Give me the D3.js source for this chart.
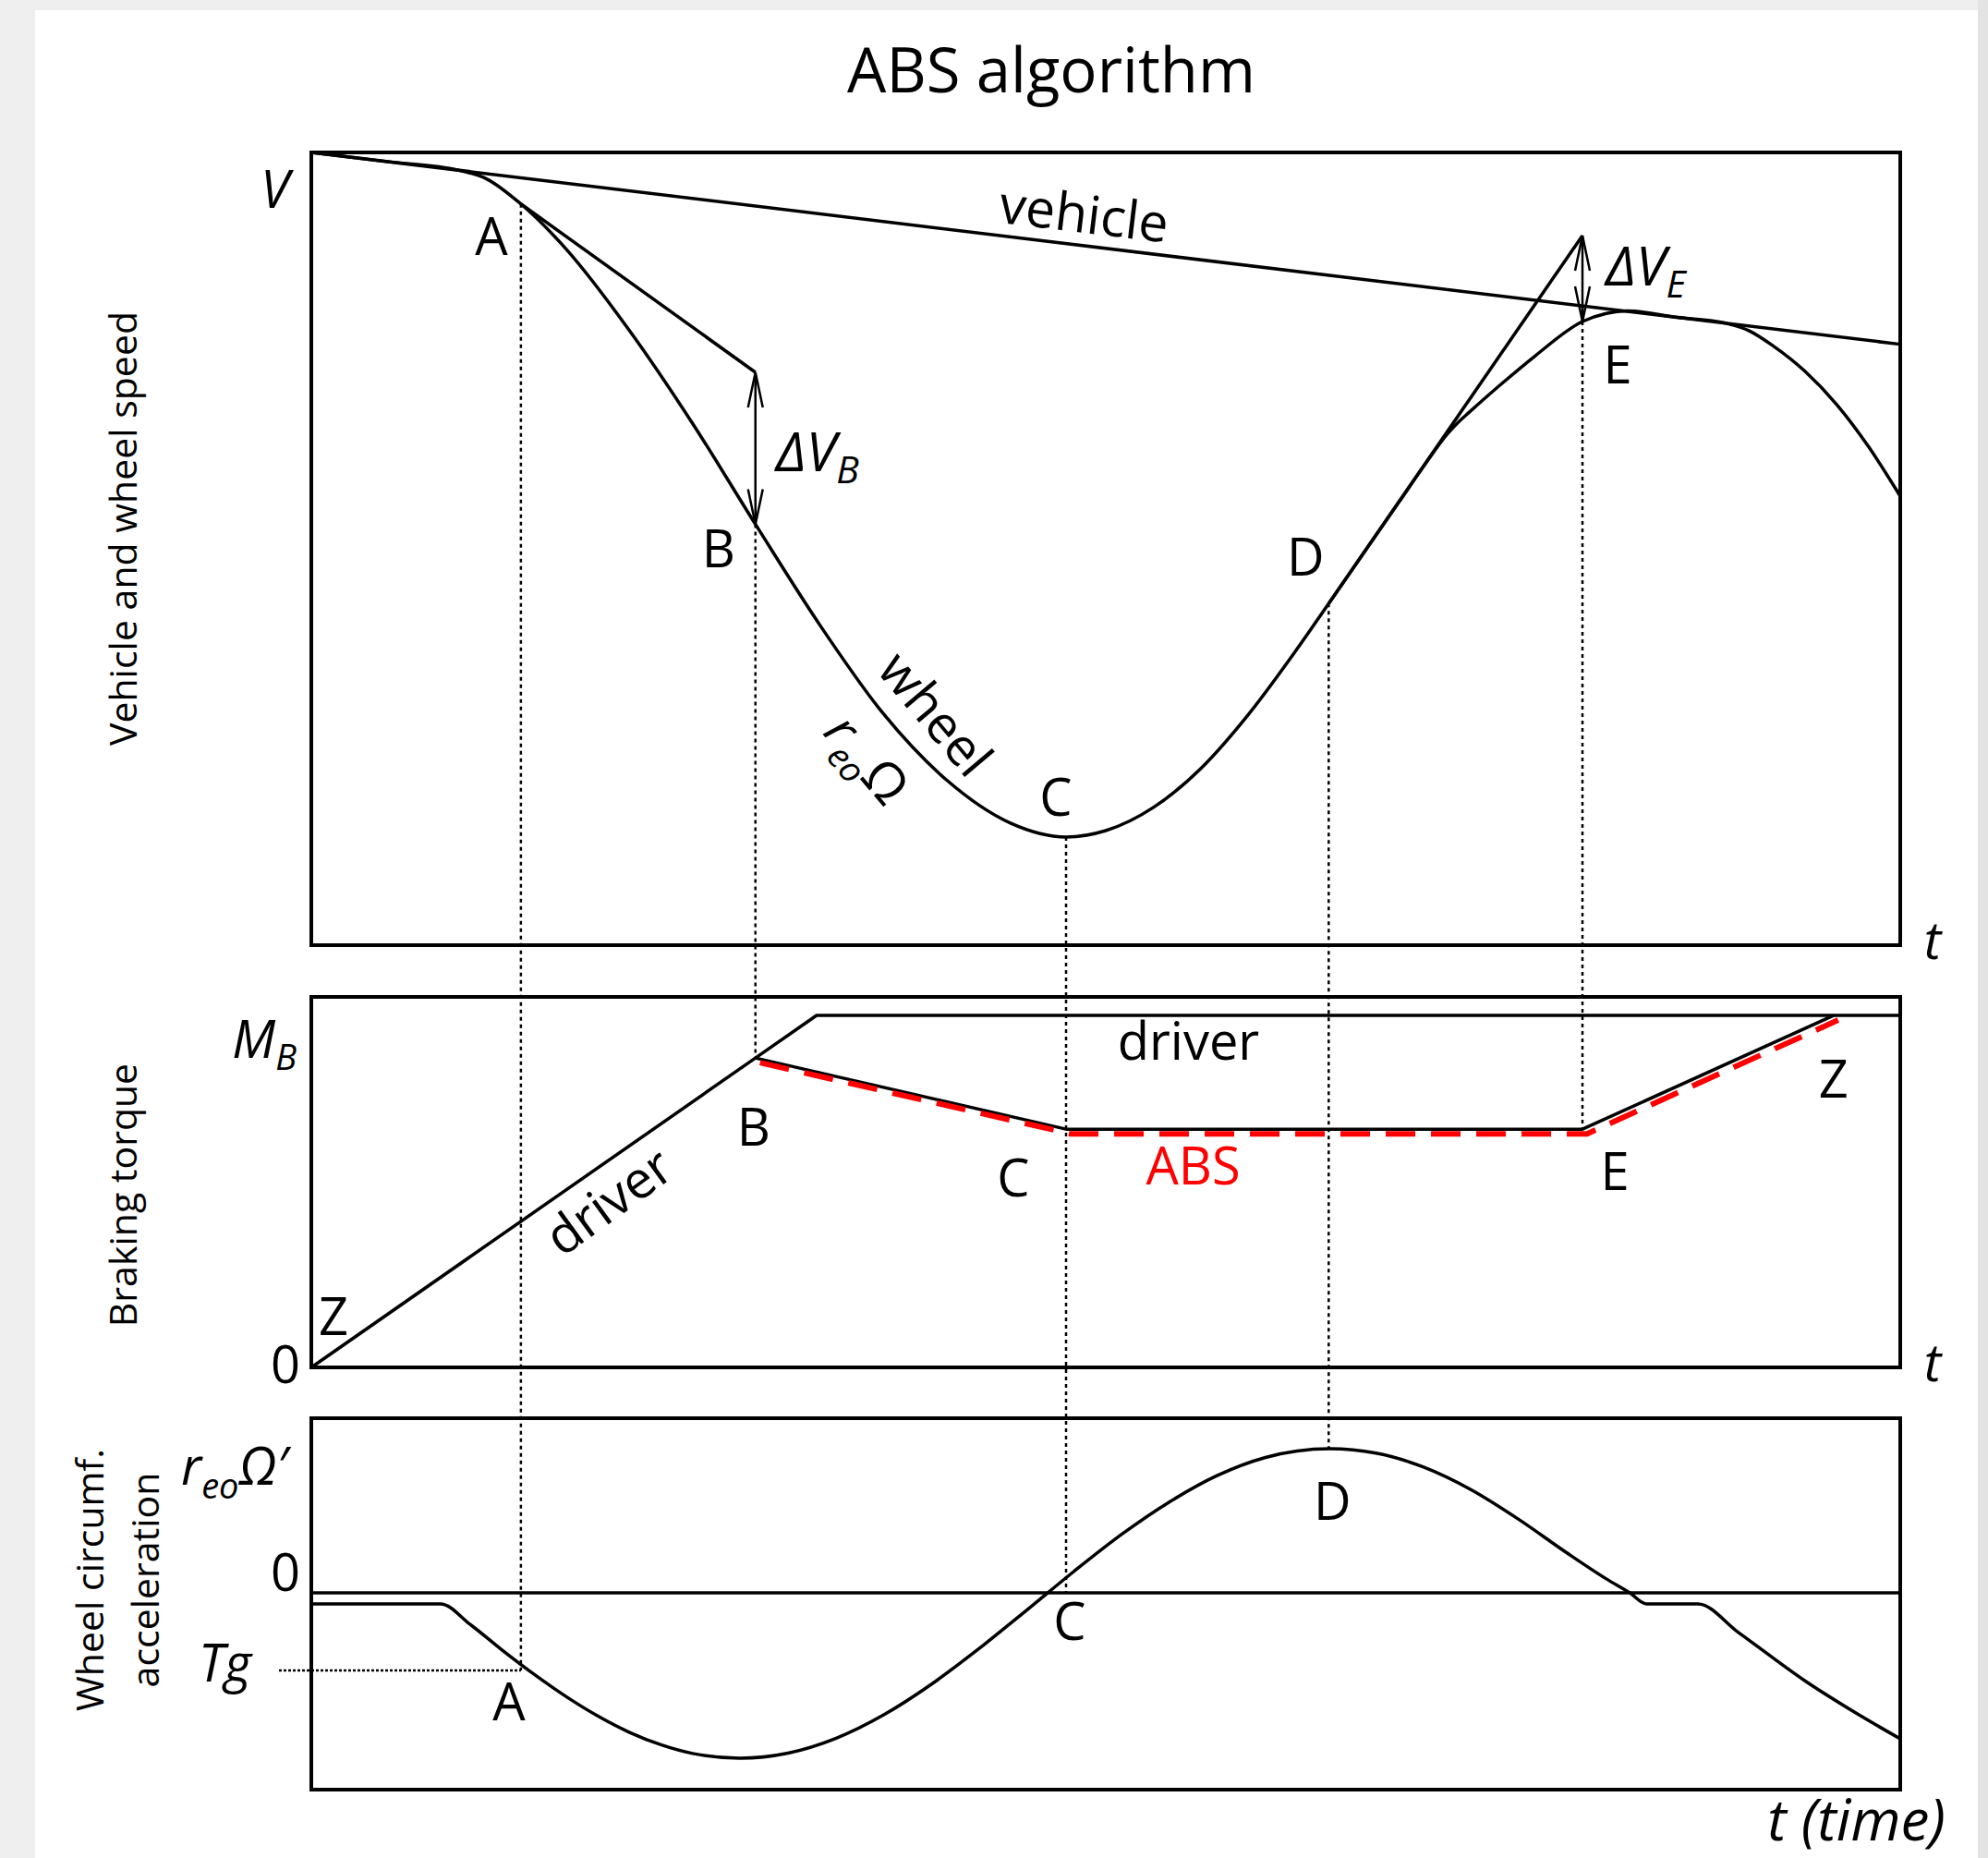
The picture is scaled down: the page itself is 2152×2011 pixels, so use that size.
<!DOCTYPE html>
<html>
<head>
<meta charset="utf-8">
<title>ABS algorithm</title>
<script src="https://cdn.jsdelivr.net/npm/d3@7"></script>
<style>
  body { margin: 0; background: #ececec; }
  svg { display: block; font-family: "Open Sans", sans-serif; }
</style>
</head>
<body>
<svg width="2152" height="2011"></svg>
<script>
// time runs 0..100 across all three panels
const eventNames = ["A", "B", "C", "D", "E"];
const eventT = [13.19, 27.95, 47.5, 64.03, 80.0];
const eventSpeed = [93.5, 53.1, 13.64, 43.1, 78.67];
// where each dotted drop line stops
const dropPanel = ["acc", "torque", "acc", "acc", "torque"];
const dropValue = [-0.444, 83.5, 0, 0.825, 64.3];

// top panel: vehicle and wheel speed
const vehicleT = [0, 100];
const vehicleV = [100, 75.8];
const wheelT = [0, 4.88, 9.24, 11, 13.19, 16, 20, 24, 27.95, 32, 36, 40, 44, 47.5,
  50, 53, 56, 59, 62, 64.03, 68.45, 70, 71.5, 72.2, 72.86, 74.9, 77, 80, 81.5, 82.8, 86, 89,
  90.5, 92, 94, 96, 98, 100];
const wheelV = [100, 98.82, 97.77, 96.7, 93.5, 87.9, 77.6, 65.8, 53.1, 40.4, 29.2, 20.8, 15.4, 13.64,
  14.45, 17.38, 22.33, 29.16, 37.26, 43.1, 55.9, 60.4, 64.5, 66.0, 67.2, 70.8, 74.3, 78.67, 79.7, 80.0,
  79.19, 78.46, 77.5, 75.6, 72.4, 68.2, 62.9, 56.64];
const tangentAT = [13.19, 27.95], tangentAV = [93.5, 72.26];
const tangentDT = [64.03, 80.0], tangentDV = [43.1, 89.5];

// middle panel: braking torque
const driverT = [0, 27.95, 31.8, 100];
const driverM = [0, 83.5, 95, 95];
const absT = [27.95, 47.5, 80.0, 95.8];
const absM = [83.5, 64.3, 64.3, 95];

// bottom panel: wheel circumferential acceleration
const accT = [0, 8.13, 10, 12, 14, 16, 18, 20, 22, 24, 26.96, 30, 33, 36, 39, 42, 45, 48,
  51, 54, 57, 60, 64.09, 67, 70, 73, 76, 79, 81.5, 82.98, 84.02, 87.27, 89.83, 94.07, 97.5, 100];
const accA = [-0.063, -0.063, -0.181, -0.327, -0.465, -0.592, -0.704, -0.798, -0.870, -0.920,
  -0.947, -0.918, -0.834, -0.700, -0.525, -0.321, -0.101, 0.123, 0.335, 0.520, 0.671, 0.774,
  0.825, 0.80, 0.72, 0.59, 0.42, 0.23, 0.08, 0, -0.063, -0.063, -0.228, -0.508, -0.704, -0.836];
const tgLevel = -0.444;

const svg = d3.select("svg");

// page background and white card
svg.append("rect").attr("width", 2152).attr("height", 2011).attr("fill", "#efefef");
svg.append("rect").attr("x", 2141).attr("width", 11).attr("height", 2011).attr("fill", "#e3e3e3");
svg.append("rect").attr("x", 38).attr("y", 11).attr("width", 2103).attr("height", 2000).attr("fill", "#fff");

const x = d3.scaleLinear().domain([0, 100]).range([337, 2057]);
const ySpeed = d3.scaleLinear().domain([0, 100]).range([1023, 165]);
const yTorque = d3.scaleLinear().domain([0, 100]).range([1480, 1079]);
const yAcc = d3.scaleLinear().domain([-1.127, 1]).range([1937, 1535]);
const yOf = {acc: yAcc, torque: yTorque};

const zip = (a, b) => a.map((d, i) => [d, b[i]]);
const lineSpeed = d3.line().x(d => x(d[0])).y(d => ySpeed(d[1]));
const lineTorque = d3.line().x(d => x(d[0])).y(d => yTorque(d[1]));
const lineAcc = d3.line().x(d => x(d[0])).y(d => yAcc(d[1])).curve(d3.curveMonotoneX);

// arrow heads
svg.append("defs").append("marker")
    .attr("id", "arr")
    .attr("markerUnits", "userSpaceOnUse")
    .attr("viewBox", "-44 -14 48 28")
    .attr("markerWidth", 48).attr("markerHeight", 28)
    .attr("refX", 0).attr("refY", 0)
    .attr("orient", "auto-start-reverse")
  .append("path")
    .attr("d", "M-38,-8L0,0L-38,8")
    .attr("fill", "none").attr("stroke", "#000").attr("stroke-width", 2.5);

// dotted drop lines linking the events across panels
const drops = svg.append("g").attr("stroke", "#000").attr("stroke-width", 2.5)
    .attr("stroke-dasharray", "4,4");
eventT.forEach((t, i) => {
  drops.append("line")
      .attr("x1", x(t)).attr("x2", x(t))
      .attr("y1", ySpeed(eventSpeed[i]))
      .attr("y2", yOf[dropPanel[i]](dropValue[i]));
});
svg.append("line")
    .attr("x1", x(0) - 35).attr("x2", x(eventT[0]))
    .attr("y1", yAcc(tgLevel)).attr("y2", yAcc(tgLevel))
    .attr("stroke", "#000").attr("stroke-width", 2.5).attr("stroke-dasharray", "3,2");

// panel frames
[ySpeed, yTorque, yAcc].forEach(s => {
  const [b, t] = s.range();
  svg.append("rect")
      .attr("x", x(0)).attr("y", t)
      .attr("width", x(100) - x(0)).attr("height", b - t)
      .attr("fill", "none").attr("stroke", "#000").attr("stroke-width", 4);
});
svg.append("line")
    .attr("x1", x(0)).attr("x2", x(100))
    .attr("y1", yAcc(0)).attr("y2", yAcc(0))
    .attr("stroke", "#000").attr("stroke-width", 3.5);

const curves = svg.append("g").attr("fill", "none").attr("stroke", "#000")
    .attr("stroke-width", 3.5).attr("stroke-linejoin", "round");

// top panel curves
curves.append("path").attr("d", lineSpeed(zip(vehicleT, vehicleV)));
curves.append("path").attr("d", lineSpeed.curve(d3.curveMonotoneX)(zip(wheelT, wheelV)));
lineSpeed.curve(d3.curveLinear);
curves.append("path").attr("d", lineSpeed(zip(tangentAT, tangentAV)));
curves.append("path").attr("d", lineSpeed(zip(tangentDT, tangentDV)));

// delta-V arrows
[[tangentAT[1], tangentAV[1], eventSpeed[1]], [tangentDT[1], tangentDV[1], eventSpeed[4]]]
  .forEach(([t, v1, v2]) => {
    svg.append("line")
        .attr("x1", x(t)).attr("x2", x(t))
        .attr("y1", ySpeed(v1)).attr("y2", ySpeed(v2))
        .attr("stroke", "#000").attr("stroke-width", 2.5)
        .attr("marker-start", "url(#arr)").attr("marker-end", "url(#arr)");
  });

// middle panel
curves.append("path").attr("d", lineTorque(zip(driverT, driverM)));
curves.append("path").attr("d", lineTorque(zip(absT, absM)));
svg.append("path")
    .attr("d", lineTorque(zip(absT, absM)))
    .attr("transform", "translate(5,5)")
    .attr("fill", "none").attr("stroke", "#ff0000").attr("stroke-width", 6)
    .attr("stroke-dasharray", "32,17");

// bottom panel
curves.append("path").attr("d", lineAcc(zip(accT, accA)));

// ---------- text ----------
const txt = (px, py, s, o = {}) => svg.append("text")
    .attr("x", px).attr("y", py)
    .attr("text-anchor", o.anchor || "middle")
    .attr("font-size", o.size || 56)
    .attr("font-style", o.italic ? "italic" : null)
    .attr("fill", o.color || "#000")
    .text(s);

txt(1138, 100, "ABS algorithm", {size: 67});

// axis titles
const axisTitle = (px, py, lines) => {
  const t = svg.append("text")
      .attr("transform", `translate(${px},${py}) rotate(-90)`)
      .attr("text-anchor", "middle").attr("font-size", 41).attr("fill", "#000");
  lines.forEach((l, i) => t.append("tspan").attr("x", 0).attr("dy", i ? 60 : 0).text(l));
};
axisTitle(148, (ySpeed(0) + ySpeed(100)) / 2 - 22, ["Vehicle and wheel speed"]);
axisTitle(148, (yTorque(0) + yTorque(100)) / 2 + 14, ["Braking torque"]);
axisTitle(112, (yAcc(-1.127) + yAcc(1)) / 2 - 26, ["Wheel circumf.", "acceleration"]);

// left value labels
txt(x(0) - 24, ySpeed(100) + 60, "V", {anchor: "end", italic: true});
const mb = txt(x(0) - 16, yTorque(100) + 66, "M", {anchor: "end", italic: true});
mb.append("tspan").attr("font-size", 38).attr("dy", 13).text("B");
txt(x(0) - 12, yTorque(0) + 17, "0", {anchor: "end"});
txt(x(0) - 12, yAcc(0) - 2, "0", {anchor: "end"});
txt(x(0) - 65, yAcc(tgLevel) + 12, "Tg", {anchor: "end", italic: true});
const ro = txt(x(0) - 141, yAcc(1) + 72, "r", {anchor: "start", italic: true});
ro.append("tspan").attr("font-size", 38).attr("dy", 15).text("eo");
ro.append("tspan").attr("dy", -15).text("Ω′");

// t axis labels
txt(x(100) + 35, ySpeed(0) + 15, "t", {italic: true});
txt(x(100) + 35, yTorque(0) + 15, "t", {italic: true});
txt(x(100) + 49, yAcc(-1.127) + 55, "t (time)", {anchor: "end", italic: true, size: 62});

// top panel labels
const [tA, tB, tC, tD, tE] = eventT;
txt(x(tA) - 32, ySpeed(eventSpeed[0]) + 55, "A");
txt(x(tB) - 40, ySpeed(eventSpeed[1]) + 47, "B");
txt(x(tC) - 11, ySpeed(eventSpeed[2]) - 23, "C");
txt(x(tD) - 25, ySpeed(eventSpeed[3]) - 30, "D");
txt(x(tE) + 38, ySpeed(eventSpeed[4]) + 67, "E");

const dvb = txt(x(tB) + 22, (ySpeed(tangentAV[1]) + ySpeed(eventSpeed[1])) / 2 + 25, "ΔV",
  {anchor: "start", italic: true, size: 59});
dvb.append("tspan").attr("font-size", 41).attr("dy", 13).text("B");
const dve = txt(x(tE) + 25, (ySpeed(tangentDV[1]) + ySpeed(eventSpeed[4])) / 2 + 7, "ΔV",
  {anchor: "start", italic: true, size: 59});
dve.append("tspan").attr("font-size", 41).attr("dy", 13).text("E");

// vehicle label follows the vehicle line
const vAng = Math.atan2(ySpeed(vehicleV[1]) - ySpeed(vehicleV[0]), x(100) - x(0)) * 180 / Math.PI;
const vt = 48.5, vv = vehicleV[0] + (vehicleV[1] - vehicleV[0]) * vt / 100;
svg.append("text")
    .attr("transform", `translate(${x(vt)},${ySpeed(vv) - 14}) rotate(${vAng})`)
    .attr("text-anchor", "middle").attr("font-size", 57).text("vehicle");

svg.append("text")
    .attr("transform", `translate(${x(38.4)},${ySpeed(27.7)}) rotate(50)`)
    .attr("text-anchor", "middle").attr("font-size", 56).text("wheel");
const rw = svg.append("text")
    .attr("transform", `translate(${x(34.1)},${ySpeed(22.0)}) rotate(50)`)
    .attr("text-anchor", "middle").attr("font-size", 56);
rw.append("tspan").attr("font-style", "italic").text("r");
rw.append("tspan").attr("font-size", 38).attr("dy", 14).attr("font-style", "italic").text("eo");
rw.append("tspan").attr("dy", -14).text("Ω");

// middle panel labels
svg.append("text")
    .attr("transform", `translate(${x(19.4)},${yTorque(40.8)}) rotate(-36)`)
    .attr("text-anchor", "middle").attr("font-size", 56).text("driver");
txt(x(55.2), yTorque(83.0), "driver");
txt(x(55.5), yTorque(49.3), "ABS", {color: "#ff0000"});
txt(x(tB) - 2, yTorque(dropValue[1]) + 95, "B");
txt(x(tC) - 57, yTorque(absM[1]) + 73, "C");
txt(x(tE) + 35, yTorque(absM[2]) + 66, "E");
txt(x(0) + 24, yTorque(0) - 35, "Z");
txt(x(absT[3]), yTorque(absM[3]) + 89, "Z");

// bottom panel labels
txt(x(tA) - 13, yAcc(tgLevel) + 54, "A");
txt(x(tC) + 4, yAcc(0) + 51, "C");
txt(x(tD) + 4, yAcc(dropValue[3]) + 77, "D");
</script>
</body>
</html>
